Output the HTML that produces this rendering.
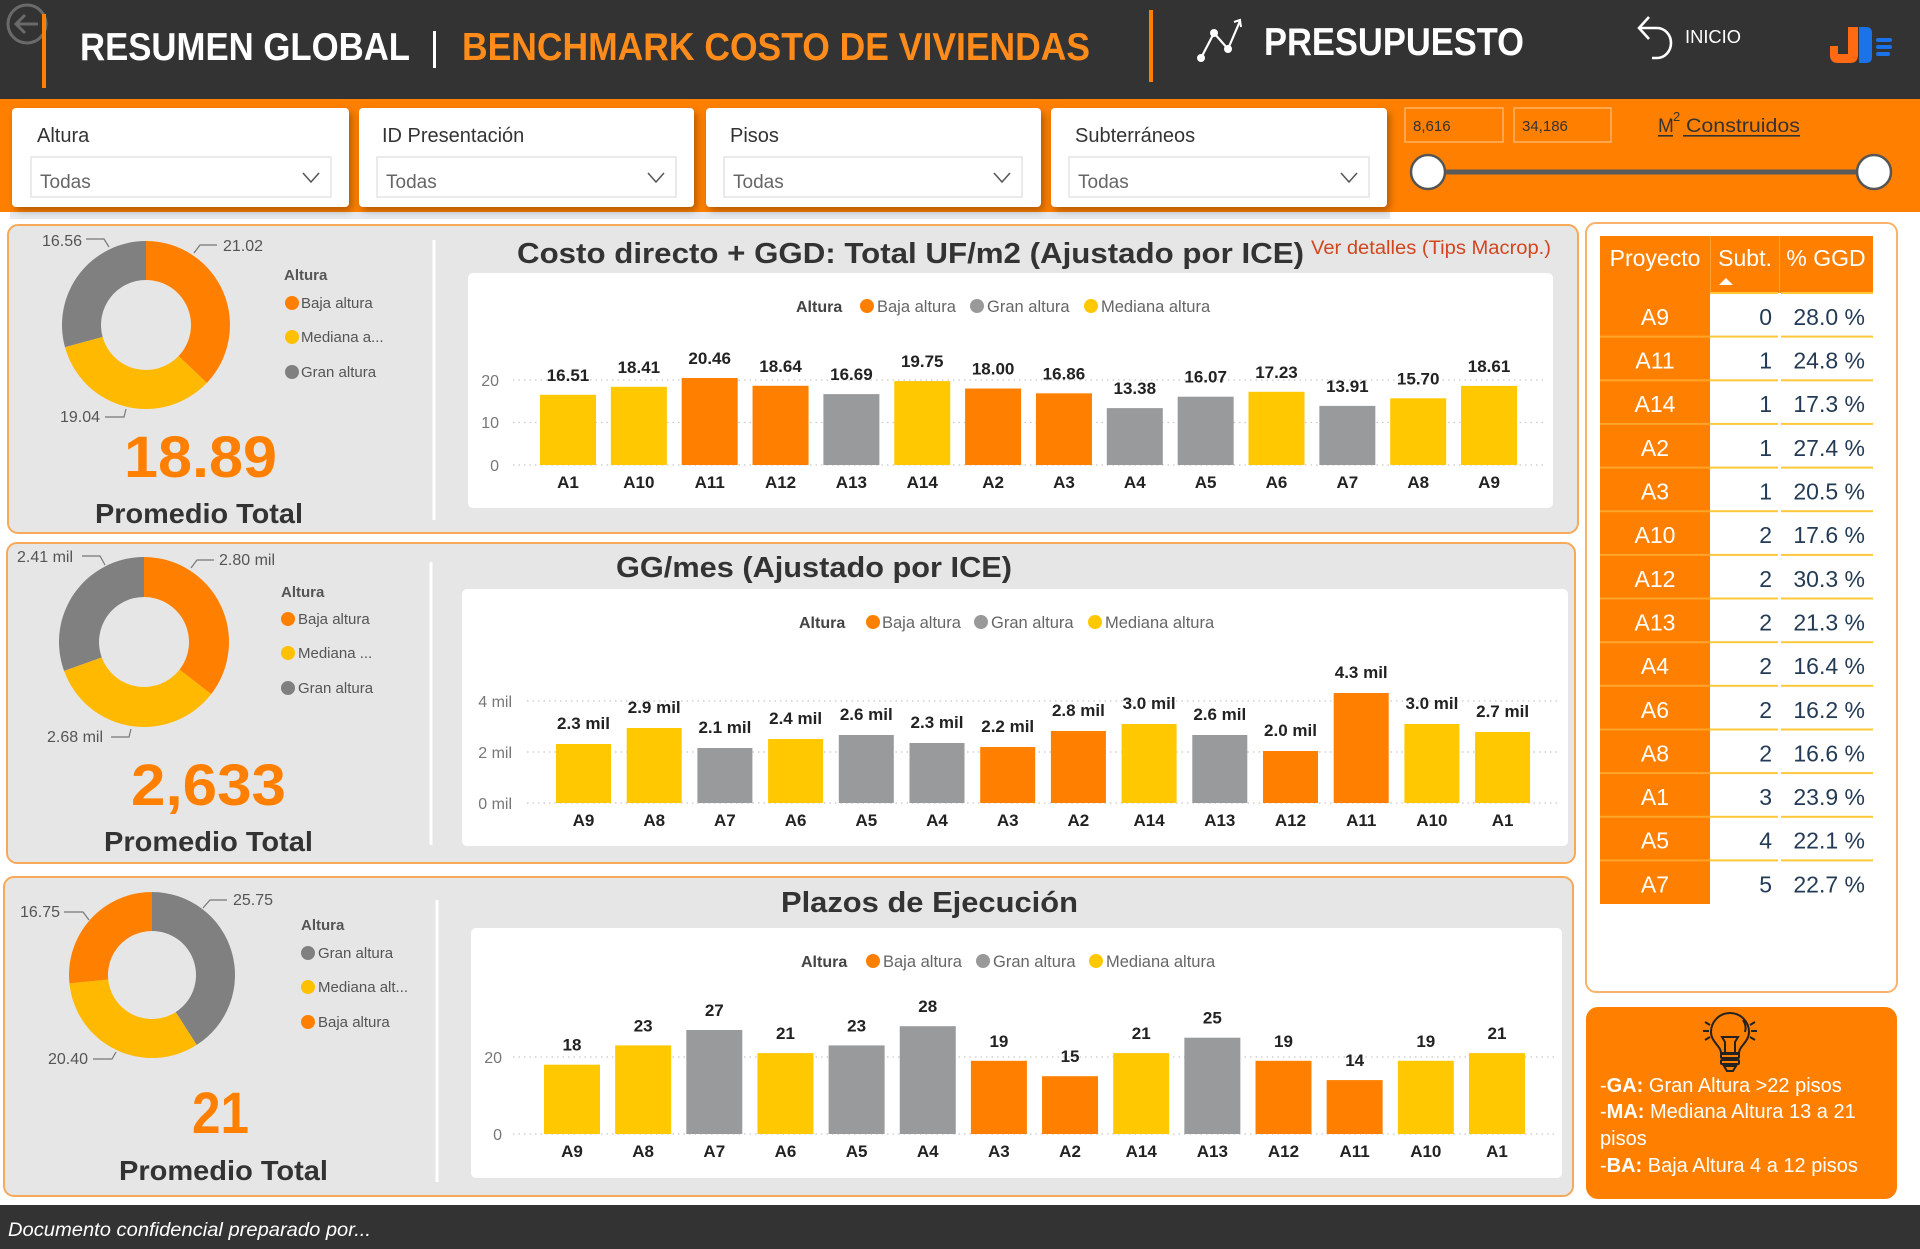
<!DOCTYPE html>
<html><head><meta charset="utf-8"><style>
html,body{margin:0;padding:0;background:#fff;}
svg{display:block;}
text{font-family:"Liberation Sans",Arial,sans-serif;}
</style></head><body>
<svg width="1920" height="1249" viewBox="0 0 1920 1249" xmlns="http://www.w3.org/2000/svg">
<defs>
<filter id="sh" x="-10%" y="-10%" width="130%" height="140%"><feDropShadow dx="3" dy="4" stdDeviation="4" flood-color="#000" flood-opacity="0.3"/></filter>
</defs>
<rect width="1920" height="1249" fill="#ffffff"/>
<!-- HEADER -->
<rect x="0" y="0" width="1920" height="99" fill="#333333"/>
<circle cx="27" cy="24" r="19" fill="none" stroke="#6a6a6a" stroke-width="3"/>
<path d="M38,24 H17 M25,15 L16,24 L25,33" fill="none" stroke="#6a6a6a" stroke-width="3"/>
<rect x="42" y="14" width="4" height="74" fill="#ff8000"/>
<text x="80" y="60" font-size="39" font-weight="bold" fill="#ffffff" textLength="330" lengthAdjust="spacingAndGlyphs">RESUMEN GLOBAL</text>
<rect x="433" y="31" width="3" height="37" fill="#ffffff"/>
<text x="462" y="60" font-size="39" font-weight="bold" fill="#ff8c1a" textLength="628" lengthAdjust="spacingAndGlyphs">BENCHMARK COSTO DE VIVIENDAS</text>
<rect x="1149" y="10" width="4" height="72" fill="#ff8000"/>
<polyline points="1201,58 1214,33 1228,49 1240,21" fill="none" stroke="#fff" stroke-width="2.2"/>
<path d="M1234,22 L1240,20 L1241,27" fill="none" stroke="#fff" stroke-width="2"/>
<circle cx="1201" cy="58" r="4" fill="#fff"/><circle cx="1214" cy="33" r="4" fill="#fff"/><circle cx="1228" cy="49" r="4" fill="#fff"/>
<text x="1264" y="55" font-size="39" font-weight="bold" fill="#ffffff" textLength="260" lengthAdjust="spacingAndGlyphs">PRESUPUESTO</text>
<path d="M1649,17 L1639,28 L1649,39 M1639,28 H1657 A14,15 0 0 1 1657,58 H1652" fill="none" stroke="#fff" stroke-width="2.6"/>
<text x="1685" y="43" font-size="18" fill="#ffffff" textLength="56" lengthAdjust="spacingAndGlyphs">INICIO</text>
<path d="M1848,27 H1858 V55 Q1858,63 1850,63 H1838 Q1830,63 1830,55 V46 H1838 V54 H1848 Z" fill="#ff6a13"/>
<path d="M1859,27 H1866 Q1872,27 1872,33 V57 Q1872,63 1866,63 H1859 Z" fill="#1a73e8"/>
<rect x="1876" y="38" width="16" height="4" rx="2" fill="#1a73e8"/>
<rect x="1876" y="45" width="16" height="4" rx="2" fill="#1a73e8"/>
<rect x="1876" y="52" width="14" height="4" rx="2" fill="#1a73e8"/>
<!-- FILTER BAND -->
<rect x="0" y="99" width="1920" height="113" fill="#ff8000"/>
<rect x="10" y="212" width="1380" height="7" fill="#dde2e8" opacity="0.7"/>
<g filter="url(#sh)">
<rect x="12" y="108" width="337" height="99" rx="4" fill="#fff"/>
<rect x="359" y="108" width="335" height="99" rx="4" fill="#fff"/>
<rect x="706" y="108" width="335" height="99" rx="4" fill="#fff"/>
<rect x="1051" y="108" width="336" height="99" rx="4" fill="#fff"/>
</g>
<g font-size="20" fill="#333">
<text x="37" y="142">Altura</text>
<text x="382" y="142">ID Presentación</text>
<text x="730" y="142">Pisos</text>
<text x="1075" y="142">Subterráneos</text>
</g>
<g fill="#fff" stroke="#e4e4e4" stroke-width="1.5">
<rect x="31" y="157" width="300" height="40"/>
<rect x="377" y="157" width="299" height="40"/>
<rect x="724" y="157" width="298" height="40"/>
<rect x="1069" y="157" width="300" height="40"/>
</g>
<g font-size="19" fill="#666">
<text x="40" y="188">Todas</text>
<text x="386" y="188">Todas</text>
<text x="733" y="188">Todas</text>
<text x="1078" y="188">Todas</text>
</g>
<g fill="none" stroke="#555" stroke-width="1.5">
<polyline points="303,173 311,182 319,173"/>
<polyline points="648,173 656,182 664,173"/>
<polyline points="994,173 1002,182 1010,173"/>
<polyline points="1341,173 1349,182 1357,173"/>
</g>
<rect x="1405" y="108" width="98" height="34" fill="none" stroke="#ffb366" stroke-width="1.5"/>
<rect x="1514" y="108" width="97" height="34" fill="none" stroke="#ffb366" stroke-width="1.5"/>
<text x="1413" y="131" font-size="15" fill="#333">8,616</text>
<text x="1522" y="131" font-size="15" fill="#333">34,186</text>
<text x="1658" y="132" font-size="19" fill="#333">M</text>
<text x="1673" y="121" font-size="13" fill="#333">2</text>
<text x="1686" y="132" font-size="19" fill="#333" textLength="114" lengthAdjust="spacingAndGlyphs">Construidos</text>
<rect x="1658" y="135" width="15" height="1.6" fill="#333"/>
<rect x="1683" y="135" width="117" height="1.6" fill="#333"/>
<line x1="1428" y1="172" x2="1874" y2="172" stroke="#5a5a5a" stroke-width="5"/>
<circle cx="1428" cy="172" r="17" fill="#fff" stroke="#555" stroke-width="2.5"/>
<circle cx="1874" cy="172" r="17" fill="#fff" stroke="#555" stroke-width="2.5"/>

<!-- PANELS -->
<rect x="8" y="225" width="1570" height="308" rx="10" fill="#e6e6e6" stroke="#f7a95a" stroke-width="2"/>
<rect x="7" y="543" width="1568" height="320" rx="10" fill="#e6e6e6" stroke="#f7a95a" stroke-width="2"/>
<rect x="4" y="877" width="1569" height="319" rx="10" fill="#e6e6e6" stroke="#f7a95a" stroke-width="2"/>
<rect x="432.5" y="240" width="3" height="280" fill="#fff"/>
<rect x="429.5" y="562" width="3" height="283" fill="#fff"/>
<rect x="435.5" y="900" width="3" height="282" fill="#fff"/>

<!-- DONUT 1 -->
<path d="M146,241 A84,84 0 0 1 206.83,382.93 L178.59,356.03 A45,45 0 0 0 146,280 Z" fill="#ff8000"/>
<path d="M206.83,382.93 A84,84 0 0 1 64.97,347.17 L102.59,336.88 A45,45 0 0 0 178.59,356.03 Z" fill="#ffb900"/>
<path d="M64.97,347.17 A84,84 0 0 1 146,241 L146,280 A45,45 0 0 0 102.59,336.88 Z" fill="#808080"/>
<g fill="none" stroke="#777" stroke-width="1.2">
<polyline points="86,239 104,239 109,247"/>
<polyline points="217,245 200,245 194,253"/>
<polyline points="105,417 124,417 126,409"/>
</g>
<g font-size="16" fill="#555">
<text x="42" y="246">16.56</text>
<text x="223" y="251">21.02</text>
<text x="60" y="422">19.04</text>
</g>
<text x="284" y="280" font-size="15" font-weight="bold" fill="#555">Altura</text>
<circle cx="292" cy="303" r="7" fill="#ff8000"/><text x="301" y="308" font-size="15" fill="#555">Baja altura</text>
<circle cx="292" cy="337" r="7" fill="#ffc000"/><text x="301" y="342" font-size="15" fill="#555">Mediana a...</text>
<circle cx="292" cy="372" r="7" fill="#808080"/><text x="301" y="377" font-size="15" fill="#555">Gran altura</text>
<text x="124" y="477" font-size="58" font-weight="bold" fill="#ff8000" textLength="153" lengthAdjust="spacingAndGlyphs">18.89</text>
<text x="95" y="523" font-size="28" font-weight="bold" fill="#333" textLength="208" lengthAdjust="spacingAndGlyphs">Promedio Total</text>

<!-- DONUT 2 -->
<path d="M144,557 A85,85 0 0 1 211.17,694.1 L179.56,669.58 A45,45 0 0 0 144,597 Z" fill="#ff8000"/>
<path d="M211.17,694.1 A85,85 0 0 1 64.07,670.93 L101.69,657.32 A45,45 0 0 0 179.56,669.58 Z" fill="#ffb900"/>
<path d="M64.07,670.93 A85,85 0 0 1 144,557 L144,597 A45,45 0 0 0 101.69,657.32 Z" fill="#808080"/>
<g fill="none" stroke="#777" stroke-width="1.2">
<polyline points="82,556 100,556 105,565"/>
<polyline points="214,560 197,560 191,568"/>
<polyline points="111,737 129,737 131,729"/>
</g>
<g font-size="16" fill="#555">
<text x="17" y="562">2.41 mil</text>
<text x="219" y="565">2.80 mil</text>
<text x="47" y="742">2.68 mil</text>
</g>
<text x="281" y="597" font-size="15" font-weight="bold" fill="#555">Altura</text>
<circle cx="288" cy="619" r="7" fill="#ff8000"/><text x="298" y="624" font-size="15" fill="#555">Baja altura</text>
<circle cx="288" cy="653" r="7" fill="#ffc000"/><text x="298" y="658" font-size="15" fill="#555">Mediana ...</text>
<circle cx="288" cy="688" r="7" fill="#808080"/><text x="298" y="693" font-size="15" fill="#555">Gran altura</text>
<text x="131" y="805" font-size="58" font-weight="bold" fill="#ff8000" textLength="155" lengthAdjust="spacingAndGlyphs">2,633</text>
<text x="104" y="851" font-size="28" font-weight="bold" fill="#333" textLength="209" lengthAdjust="spacingAndGlyphs">Promedio Total</text>

<!-- DONUT 3 -->
<path d="M152,892 A83,83 0 0 1 196.72,1044.93 L175.71,1012.07 A44,44 0 0 0 152,931 Z" fill="#808080"/>
<path d="M196.72,1044.93 A83,83 0 0 1 69.42,983.39 L108.22,979.45 A44,44 0 0 0 175.71,1012.07 Z" fill="#ffb900"/>
<path d="M69.42,983.39 A83,83 0 0 1 152,892 L152,931 A44,44 0 0 0 108.22,979.45 Z" fill="#ff8000"/>
<g fill="none" stroke="#777" stroke-width="1.2">
<polyline points="227,900 210,900 203,908"/>
<polyline points="64,912 83,912 89,920"/>
<polyline points="93,1059 112,1059 116,1052"/>
</g>
<g font-size="16" fill="#555">
<text x="233" y="905">25.75</text>
<text x="20" y="917">16.75</text>
<text x="48" y="1064">20.40</text>
</g>
<text x="301" y="930" font-size="15" font-weight="bold" fill="#555">Altura</text>
<circle cx="308" cy="953" r="7" fill="#808080"/><text x="318" y="958" font-size="15" fill="#555">Gran altura</text>
<circle cx="308" cy="987" r="7" fill="#ffc000"/><text x="318" y="992" font-size="15" fill="#555">Mediana alt...</text>
<circle cx="308" cy="1022" r="7" fill="#ff8000"/><text x="318" y="1027" font-size="15" fill="#555">Baja altura</text>
<text x="192" y="1133" font-size="58" font-weight="bold" fill="#ff8000" textLength="57" lengthAdjust="spacingAndGlyphs">21</text>
<text x="119" y="1180" font-size="28" font-weight="bold" fill="#333" textLength="209" lengthAdjust="spacingAndGlyphs">Promedio Total</text>

<!-- CHART 1 -->
<text x="517" y="263" font-size="29" font-weight="bold" fill="#333" textLength="787" lengthAdjust="spacingAndGlyphs">Costo directo + GGD: Total UF/m2 (Ajustado por ICE)</text>
<text x="1311" y="254" font-size="19" fill="#d2451e" textLength="240" lengthAdjust="spacingAndGlyphs">Ver detalles (Tips Macrop.)</text>
<rect x="468" y="273" width="1085" height="235" rx="5" fill="#fff"/>
<text x="796" y="312" font-size="16" font-weight="bold" fill="#444">Altura</text>
<circle cx="867" cy="306" r="7" fill="#ff8000"/><text x="877" y="312" font-size="16.5" fill="#666">Baja altura</text>
<circle cx="977" cy="306" r="7" fill="#999"/><text x="987" y="312" font-size="16.5" fill="#666">Gran altura</text>
<circle cx="1091" cy="306" r="7" fill="#ffc800"/><text x="1101" y="312" font-size="16.5" fill="#666">Mediana altura</text>
<g stroke="#c8c8c8" stroke-width="1.3" stroke-dasharray="1.5 4">
<line x1="513" y1="380" x2="1544" y2="380"/>
<line x1="513" y1="422.5" x2="1544" y2="422.5"/>
<line x1="513" y1="465" x2="1544" y2="465"/>
</g>
<g font-size="16" fill="#777" text-anchor="end">
<text x="499" y="386">20</text><text x="499" y="428">10</text><text x="499" y="471">0</text>
</g>
<g>
<rect x="540" y="394.8" width="56" height="70.2" fill="#ffc800"/>
<rect x="610.85" y="386.8" width="56" height="78.2" fill="#ffc800"/>
<rect x="681.7" y="378" width="56" height="87" fill="#ff8000"/>
<rect x="752.55" y="385.8" width="56" height="79.2" fill="#ff8000"/>
<rect x="823.4" y="394.1" width="56" height="70.9" fill="#999a9c"/>
<rect x="894.25" y="381.1" width="56" height="83.9" fill="#ffc800"/>
<rect x="965.1" y="388.5" width="56" height="76.5" fill="#ff8000"/>
<rect x="1035.95" y="393.3" width="56" height="71.7" fill="#ff8000"/>
<rect x="1106.8" y="408.1" width="56" height="56.9" fill="#999a9c"/>
<rect x="1177.65" y="396.7" width="56" height="68.3" fill="#999a9c"/>
<rect x="1248.5" y="391.8" width="56" height="73.2" fill="#ffc800"/>
<rect x="1319.35" y="405.9" width="56" height="59.1" fill="#999a9c"/>
<rect x="1390.2" y="398.3" width="56" height="66.7" fill="#ffc800"/>
<rect x="1461.05" y="385.9" width="56" height="79.1" fill="#ffc800"/>
</g>
<g font-size="17" font-weight="bold" fill="#222" text-anchor="middle">
<text x="568" y="380.8">16.51</text>
<text x="638.85" y="372.8">18.41</text>
<text x="709.7" y="364">20.46</text>
<text x="780.55" y="371.8">18.64</text>
<text x="851.4" y="380.1">16.69</text>
<text x="922.25" y="367.1">19.75</text>
<text x="993.1" y="374.5">18.00</text>
<text x="1063.95" y="379.3">16.86</text>
<text x="1134.8" y="394.1">13.38</text>
<text x="1205.65" y="382.7">16.07</text>
<text x="1276.5" y="377.8">17.23</text>
<text x="1347.35" y="391.9">13.91</text>
<text x="1418.2" y="384.3">15.70</text>
<text x="1489.05" y="371.9">18.61</text>
</g>
<g font-size="17" font-weight="bold" fill="#222" text-anchor="middle">
<text x="568" y="488">A1</text><text x="638.85" y="488">A10</text><text x="709.7" y="488">A11</text><text x="780.55" y="488">A12</text><text x="851.4" y="488">A13</text><text x="922.25" y="488">A14</text><text x="993.1" y="488">A2</text><text x="1063.95" y="488">A3</text><text x="1134.8" y="488">A4</text><text x="1205.65" y="488">A5</text><text x="1276.5" y="488">A6</text><text x="1347.35" y="488">A7</text><text x="1418.2" y="488">A8</text><text x="1489.05" y="488">A9</text>
</g>

<!-- CHART 2 -->
<text x="616" y="577" font-size="29" font-weight="bold" fill="#333" textLength="396" lengthAdjust="spacingAndGlyphs">GG/mes (Ajustado por ICE)</text>
<rect x="462" y="589" width="1106" height="257" rx="5" fill="#fff"/>
<text x="799" y="628" font-size="16" font-weight="bold" fill="#444">Altura</text>
<circle cx="873" cy="622" r="7" fill="#ff8000"/><text x="882" y="628" font-size="16.5" fill="#666">Baja altura</text>
<circle cx="981" cy="622" r="7" fill="#999"/><text x="991" y="628" font-size="16.5" fill="#666">Gran altura</text>
<circle cx="1095" cy="622" r="7" fill="#ffc800"/><text x="1105" y="628" font-size="16.5" fill="#666">Mediana altura</text>
<g stroke="#c8c8c8" stroke-width="1.3" stroke-dasharray="1.5 4">
<line x1="527" y1="701" x2="1558" y2="701"/>
<line x1="527" y1="752" x2="1558" y2="752"/>
<line x1="527" y1="803" x2="1558" y2="803"/>
</g>
<g font-size="16" fill="#777" text-anchor="end">
<text x="512" y="707">4 mil</text><text x="512" y="758">2 mil</text><text x="512" y="809">0 mil</text>
</g>
<g>
<rect x="556" y="744" width="55" height="59" fill="#ffc800"/>
<rect x="626.7" y="728" width="55" height="75" fill="#ffc800"/>
<rect x="697.4" y="748" width="55" height="55" fill="#999a9c"/>
<rect x="768.1" y="739" width="55" height="64" fill="#ffc800"/>
<rect x="838.8" y="735" width="55" height="68" fill="#999a9c"/>
<rect x="909.5" y="743" width="55" height="60" fill="#999a9c"/>
<rect x="980.2" y="747" width="55" height="56" fill="#ff8000"/>
<rect x="1050.9" y="731" width="55" height="72" fill="#ff8000"/>
<rect x="1121.6" y="724" width="55" height="79" fill="#ffc800"/>
<rect x="1192.3" y="735" width="55" height="68" fill="#999a9c"/>
<rect x="1263" y="751" width="55" height="52" fill="#ff8000"/>
<rect x="1333.7" y="693" width="55" height="110" fill="#ff8000"/>
<rect x="1404.4" y="724" width="55" height="79" fill="#ffc800"/>
<rect x="1475.1" y="732" width="55" height="71" fill="#ffc800"/>
</g>
<g font-size="17" font-weight="bold" fill="#222" text-anchor="middle">
<text x="583.5" y="729">2.3 mil</text>
<text x="654.2" y="713">2.9 mil</text>
<text x="724.9" y="733">2.1 mil</text>
<text x="795.6" y="724">2.4 mil</text>
<text x="866.3" y="720">2.6 mil</text>
<text x="937" y="728">2.3 mil</text>
<text x="1007.7" y="732">2.2 mil</text>
<text x="1078.4" y="716">2.8 mil</text>
<text x="1149.1" y="709">3.0 mil</text>
<text x="1219.8" y="720">2.6 mil</text>
<text x="1290.5" y="736">2.0 mil</text>
<text x="1361.2" y="678">4.3 mil</text>
<text x="1431.9" y="709">3.0 mil</text>
<text x="1502.6" y="717">2.7 mil</text>
</g>
<g font-size="17" font-weight="bold" fill="#222" text-anchor="middle">
<text x="583.5" y="826">A9</text><text x="654.2" y="826">A8</text><text x="724.9" y="826">A7</text><text x="795.6" y="826">A6</text><text x="866.3" y="826">A5</text><text x="937" y="826">A4</text><text x="1007.7" y="826">A3</text><text x="1078.4" y="826">A2</text><text x="1149.1" y="826">A14</text><text x="1219.8" y="826">A13</text><text x="1290.5" y="826">A12</text><text x="1361.2" y="826">A11</text><text x="1431.9" y="826">A10</text><text x="1502.6" y="826">A1</text>
</g>

<!-- CHART 3 -->
<text x="781" y="912" font-size="29" font-weight="bold" fill="#333" textLength="297" lengthAdjust="spacingAndGlyphs">Plazos de Ejecución</text>
<rect x="471" y="928" width="1091" height="250" rx="5" fill="#fff"/>
<text x="801" y="967" font-size="16" font-weight="bold" fill="#444">Altura</text>
<circle cx="873" cy="961" r="7" fill="#ff8000"/><text x="883" y="967" font-size="16.5" fill="#666">Baja altura</text>
<circle cx="983" cy="961" r="7" fill="#999"/><text x="993" y="967" font-size="16.5" fill="#666">Gran altura</text>
<circle cx="1096" cy="961" r="7" fill="#ffc800"/><text x="1106" y="967" font-size="16.5" fill="#666">Mediana altura</text>
<g stroke="#c8c8c8" stroke-width="1.3" stroke-dasharray="1.5 4">
<line x1="513" y1="1057" x2="1555" y2="1057"/>
<line x1="513" y1="1134" x2="1555" y2="1134"/>
</g>
<g font-size="16" fill="#777" text-anchor="end">
<text x="502" y="1063">20</text><text x="502" y="1140">0</text>
</g>
<g>
<rect x="544" y="1064.7" width="56" height="69.3" fill="#ffc800"/>
<rect x="615.15" y="1045.4" width="56" height="88.6" fill="#ffc800"/>
<rect x="686.3" y="1030" width="56" height="104" fill="#999a9c"/>
<rect x="757.45" y="1053.1" width="56" height="80.9" fill="#ffc800"/>
<rect x="828.6" y="1045.4" width="56" height="88.6" fill="#999a9c"/>
<rect x="899.75" y="1026.2" width="56" height="107.8" fill="#999a9c"/>
<rect x="970.9" y="1060.8" width="56" height="73.2" fill="#ff8000"/>
<rect x="1042.05" y="1076.2" width="56" height="57.8" fill="#ff8000"/>
<rect x="1113.2" y="1053.1" width="56" height="80.9" fill="#ffc800"/>
<rect x="1184.35" y="1037.7" width="56" height="96.3" fill="#999a9c"/>
<rect x="1255.5" y="1060.8" width="56" height="73.2" fill="#ff8000"/>
<rect x="1326.65" y="1080.1" width="56" height="53.9" fill="#ff8000"/>
<rect x="1397.8" y="1060.8" width="56" height="73.2" fill="#ffc800"/>
<rect x="1468.95" y="1053.1" width="56" height="80.9" fill="#ffc800"/>
</g>
<g font-size="17" font-weight="bold" fill="#222" text-anchor="middle">
<text x="572" y="1050.7">18</text>
<text x="643.15" y="1031.4">23</text>
<text x="714.3" y="1016">27</text>
<text x="785.45" y="1039.1">21</text>
<text x="856.6" y="1031.4">23</text>
<text x="927.75" y="1012.2">28</text>
<text x="998.9" y="1046.8">19</text>
<text x="1070.05" y="1062.2">15</text>
<text x="1141.2" y="1039.1">21</text>
<text x="1212.35" y="1023.7">25</text>
<text x="1283.5" y="1046.8">19</text>
<text x="1354.65" y="1066.1">14</text>
<text x="1425.8" y="1046.8">19</text>
<text x="1496.95" y="1039.1">21</text>
</g>
<g font-size="17" font-weight="bold" fill="#222" text-anchor="middle">
<text x="572" y="1157">A9</text><text x="643.15" y="1157">A8</text><text x="714.3" y="1157">A7</text><text x="785.45" y="1157">A6</text><text x="856.6" y="1157">A5</text><text x="927.75" y="1157">A4</text><text x="998.9" y="1157">A3</text><text x="1070.05" y="1157">A2</text><text x="1141.2" y="1157">A14</text><text x="1212.35" y="1157">A13</text><text x="1283.5" y="1157">A12</text><text x="1354.65" y="1157">A11</text><text x="1425.8" y="1157">A10</text><text x="1496.95" y="1157">A1</text>
</g>

<!-- TABLE PANEL -->
<rect x="1586" y="223" width="311" height="769" rx="10" fill="#fff" stroke="#f9b26b" stroke-width="2"/>
<rect x="1600" y="236" width="273" height="57" fill="#ff8000"/>
<rect x="1710" y="236" width="1" height="57" fill="#ffa033"/>
<rect x="1779" y="236" width="1" height="57" fill="#ffa033"/>
<rect x="1600" y="293" width="110" height="611" fill="#ff8000"/>
<g font-size="23" fill="#fff" text-anchor="middle">
<text x="1655" y="266">Proyecto</text>
<text x="1745" y="266">Subt.</text>
<text x="1826" y="266">% GGD</text>
</g>
<polygon points="1719,285 1733,285 1726,278" fill="#fff"/>
<g fill="#ffc83a">
<rect x="1710" y="335.6" width="68" height="2"/><rect x="1781" y="335.6" width="92" height="2"/>
<rect x="1710" y="379.3" width="68" height="2"/><rect x="1781" y="379.3" width="92" height="2"/>
<rect x="1710" y="422.9" width="68" height="2"/><rect x="1781" y="422.9" width="92" height="2"/>
<rect x="1710" y="466.6" width="68" height="2"/><rect x="1781" y="466.6" width="92" height="2"/>
<rect x="1710" y="510.2" width="68" height="2"/><rect x="1781" y="510.2" width="92" height="2"/>
<rect x="1710" y="553.9" width="68" height="2"/><rect x="1781" y="553.9" width="92" height="2"/>
<rect x="1710" y="597.5" width="68" height="2"/><rect x="1781" y="597.5" width="92" height="2"/>
<rect x="1710" y="641.2" width="68" height="2"/><rect x="1781" y="641.2" width="92" height="2"/>
<rect x="1710" y="684.8" width="68" height="2"/><rect x="1781" y="684.8" width="92" height="2"/>
<rect x="1710" y="728.5" width="68" height="2"/><rect x="1781" y="728.5" width="92" height="2"/>
<rect x="1710" y="772.1" width="68" height="2"/><rect x="1781" y="772.1" width="92" height="2"/>
<rect x="1710" y="815.8" width="68" height="2"/><rect x="1781" y="815.8" width="92" height="2"/>
<rect x="1710" y="859.4" width="68" height="2"/><rect x="1781" y="859.4" width="92" height="2"/>
<rect x="1710" y="292" width="68" height="2"/><rect x="1781" y="292" width="92" height="2"/>
</g>
<g fill="#ffa52a">
<rect x="1600" y="335.6" width="110" height="2"/><rect x="1600" y="379.3" width="110" height="2"/><rect x="1600" y="422.9" width="110" height="2"/><rect x="1600" y="466.6" width="110" height="2"/><rect x="1600" y="510.2" width="110" height="2"/><rect x="1600" y="553.9" width="110" height="2"/><rect x="1600" y="597.5" width="110" height="2"/><rect x="1600" y="641.2" width="110" height="2"/><rect x="1600" y="684.8" width="110" height="2"/><rect x="1600" y="728.5" width="110" height="2"/><rect x="1600" y="772.1" width="110" height="2"/><rect x="1600" y="815.8" width="110" height="2"/><rect x="1600" y="859.4" width="110" height="2"/>
</g>
<g font-size="23" fill="#fff" text-anchor="middle">
<text x="1655" y="325">A9</text><text x="1655" y="368.6">A11</text><text x="1655" y="412.2">A14</text><text x="1655" y="455.9">A2</text><text x="1655" y="499.5">A3</text><text x="1655" y="543.2">A10</text><text x="1655" y="586.8">A12</text><text x="1655" y="630.5">A13</text><text x="1655" y="674.1">A4</text><text x="1655" y="717.8">A6</text><text x="1655" y="761.4">A8</text><text x="1655" y="805.1">A1</text><text x="1655" y="848.7">A5</text><text x="1655" y="892.4">A7</text>
</g>
<g font-size="23" fill="#243b55" text-anchor="end">
<text x="1772" y="325">0</text><text x="1772" y="368.6">1</text><text x="1772" y="412.2">1</text><text x="1772" y="455.9">1</text><text x="1772" y="499.5">1</text><text x="1772" y="543.2">2</text><text x="1772" y="586.8">2</text><text x="1772" y="630.5">2</text><text x="1772" y="674.1">2</text><text x="1772" y="717.8">2</text><text x="1772" y="761.4">2</text><text x="1772" y="805.1">3</text><text x="1772" y="848.7">4</text><text x="1772" y="892.4">5</text>
</g>
<g font-size="23" fill="#243b55" text-anchor="end">
<text x="1865" y="325">28.0 %</text><text x="1865" y="368.6">24.8 %</text><text x="1865" y="412.2">17.3 %</text><text x="1865" y="455.9">27.4 %</text><text x="1865" y="499.5">20.5 %</text><text x="1865" y="543.2">17.6 %</text><text x="1865" y="586.8">30.3 %</text><text x="1865" y="630.5">21.3 %</text><text x="1865" y="674.1">16.4 %</text><text x="1865" y="717.8">16.2 %</text><text x="1865" y="761.4">16.6 %</text><text x="1865" y="805.1">23.9 %</text><text x="1865" y="848.7">22.1 %</text><text x="1865" y="892.4">22.7 %</text>
</g>

<!-- TIP BOX -->
<rect x="1586" y="1007" width="311" height="192" rx="12" fill="#ff8000"/>
<g fill="none" stroke="#222" stroke-width="2">
<path d="M1721,1053 C1721,1046 1711,1042 1711,1032 A19,19 0 1 1 1749,1032 C1749,1042 1739,1046 1739,1053 Z"/>
<path d="M1743,1020 A14,14 0 0 1 1745,1032"/>
<path d="M1725,1053 V1042 L1722,1037 H1738 L1735,1042 V1053"/>
<rect x="1721" y="1054" width="18" height="4" rx="1"/>
<rect x="1721" y="1060" width="18" height="4" rx="1"/>
<path d="M1724,1066 H1736 L1733,1071 H1727 Z"/>
<path d="M1705,1022 L1710,1025 M1703,1031 H1709 M1705,1040 L1710,1037 M1755,1022 L1750,1025 M1757,1031 H1751 M1755,1040 L1750,1037"/>
</g>
<g font-size="20" fill="#fff">
<text x="1600" y="1092">-<tspan font-weight="bold">GA:</tspan>  Gran Altura   &gt;22 pisos</text>
<text x="1600" y="1118">-<tspan font-weight="bold">MA:</tspan> Mediana Altura  13 a 21</text>
<text x="1600" y="1145">pisos</text>
<text x="1600" y="1172">-<tspan font-weight="bold">BA:</tspan> Baja Altura  4 a 12 pisos</text>
</g>

<!-- FOOTER -->
<rect x="0" y="1205" width="1920" height="44" fill="#333333"/>
<text x="8" y="1236" font-size="19" font-style="italic" fill="#fff" textLength="363" lengthAdjust="spacingAndGlyphs">Documento confidencial preparado por...</text>
</svg>
</body></html>
